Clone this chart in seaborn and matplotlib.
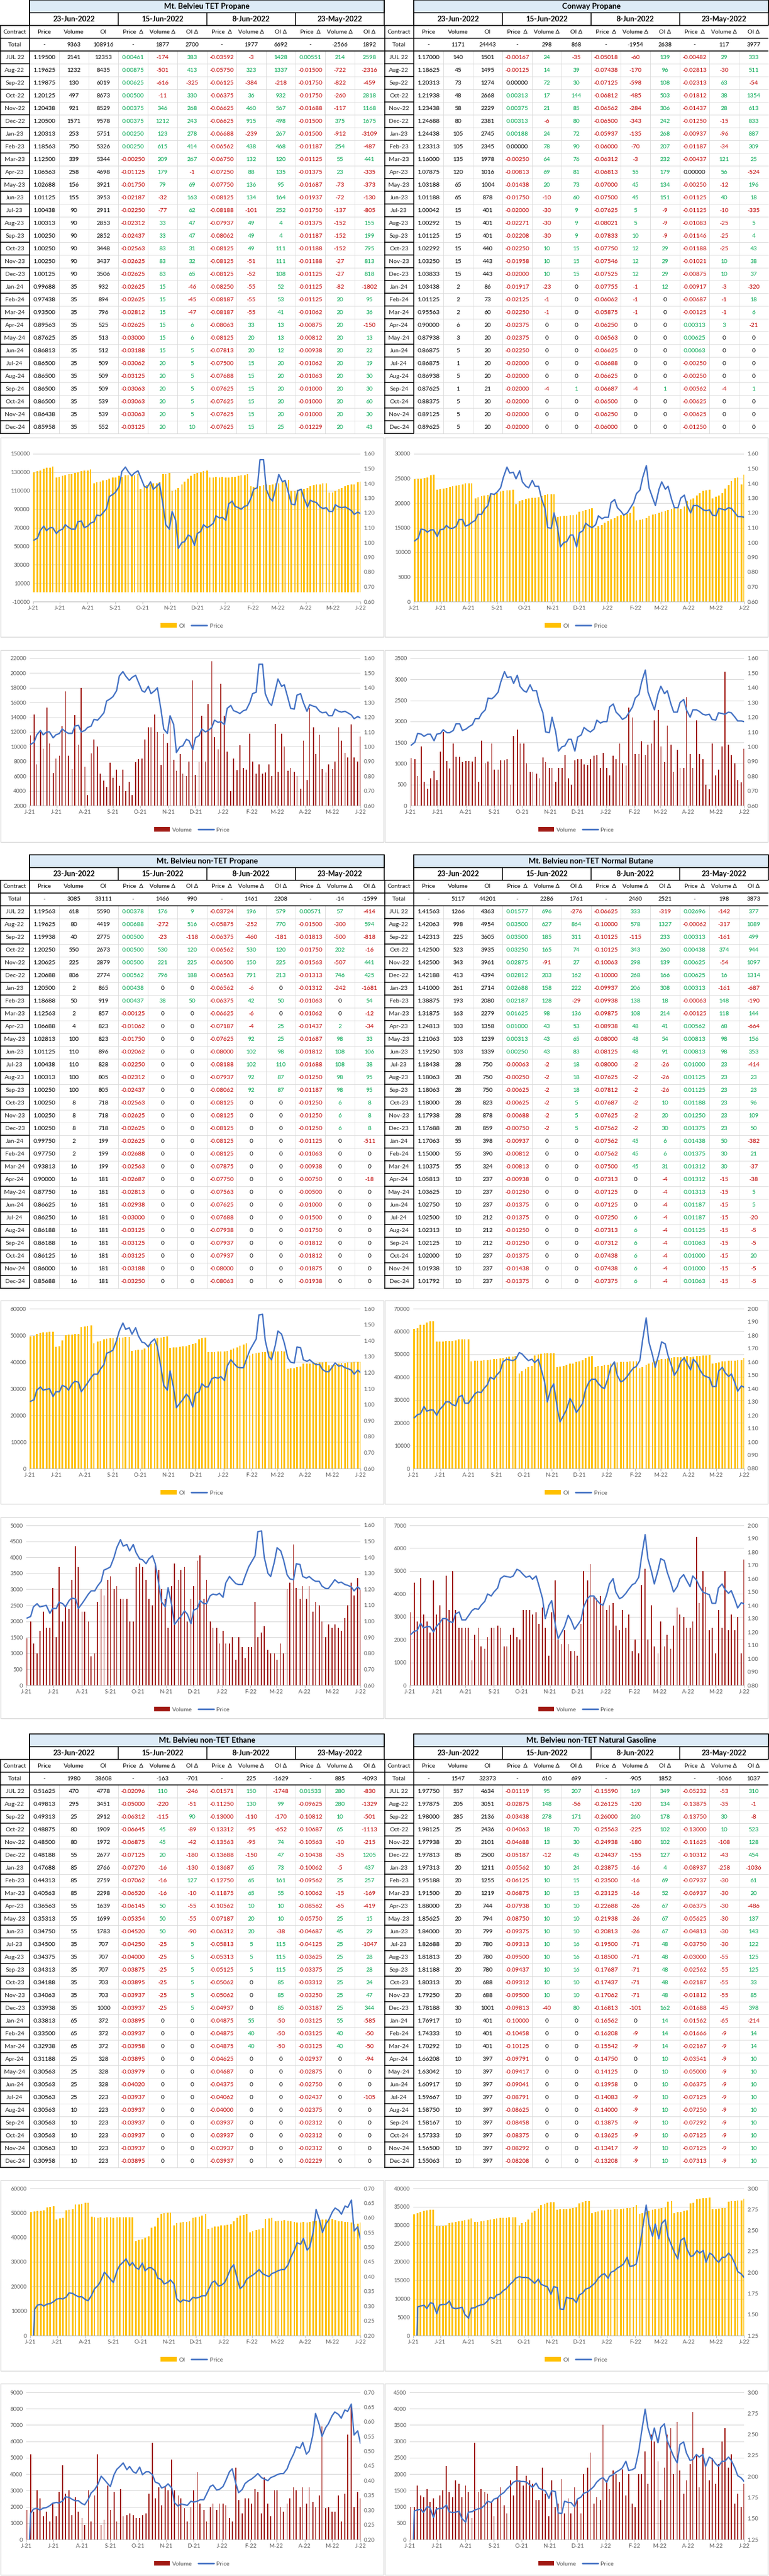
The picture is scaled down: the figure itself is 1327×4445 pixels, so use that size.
import numpy as np
import pandas as pd
import matplotlib
matplotlib.use('Agg')
import matplotlib.pyplot as plt
from matplotlib.patches import Rectangle, Patch
from matplotlib.lines import Line2D
from matplotlib.ticker import FuncFormatter
import seaborn as sns

W, H = 1327, 4445
CW, RH = 51, 22

sns.set_theme(style='white')
plt.rcParams['font.family'] = ['Lato', 'DejaVu Sans']

GOLD = '#FFC000'
MAROON = '#A11A14'
BLUE = '#4472C4'
GRID = '#D9D9D9'
TICK = '#595959'
RED = '#C00000'
GREEN = '#00A650'

contracts = ['JUL 22', 'Aug-22', 'Sep-22', 'Oct-22', 'Nov-22', 'Dec-22',
             'Jan-23', 'Feb-23', 'Mar-23', 'Apr-23', 'May-23', 'Jun-23',
             'Jul-23', 'Aug-23', 'Sep-23', 'Oct-23', 'Nov-23', 'Dec-23',
             'Jan-24', 'Feb-24', 'Mar-24', 'Apr-24', 'May-24', 'Jun-24',
             'Jul-24', 'Aug-24', 'Sep-24', 'Oct-24', 'Nov-24', 'Dec-24']
report_dates = ['23-Jun-2022', '15-Jun-2022', '8-Jun-2022', '23-May-2022']
col_heads = ['Contract', 'Price', 'Volume', 'OI'] + ['Price  Δ', 'Volume Δ', 'OI Δ'] * 3

# ---------------- table values ----------------
# totals: volume, OI, then (volume delta, OI delta) for each comparison date
tet_totals = [9363, 108916, 1877, 2700, 1977, 6692, -2566, 1892]
tet_rows = [
    [1.19500, 2141, 12353, 0.00461, -174, 383, -0.03592, -3, 1428, 0.00551, 214, 2598],
    [1.19625, 1232, 8435, 0.00875, -501, 413, -0.05750, 323, 1337, -0.01500, -722, -2316],
    [1.19875, 130, 6019, 0.00625, -616, -325, -0.06125, -384, -218, -0.01750, -822, -459],
    [1.20125, 497, 8673, 0.00500, -11, 330, -0.06375, 36, 932, -0.01750, -260, 2818],
    [1.20438, 921, 8529, 0.00375, 346, 268, -0.06625, 460, 567, -0.01688, -117, 1168],
    [1.20500, 1571, 9578, 0.00375, 1212, 243, -0.06625, 915, 498, -0.01500, 375, 1675],
    [1.20313, 253, 5751, 0.00250, 123, 278, -0.06688, -239, 267, -0.01500, -912, -3109],
    [1.18563, 750, 5326, 0.00250, 615, 414, -0.06562, 438, 468, -0.01187, 254, -487],
    [1.12500, 339, 5344, -0.00250, 209, 267, -0.06750, 132, 120, -0.01125, 55, 441],
    [1.06563, 258, 4698, -0.01125, 179, -1, -0.07250, 88, 135, -0.01375, 23, -335],
    [1.02688, 156, 3921, -0.01750, 79, 69, -0.07750, 136, 95, -0.01687, -73, -373],
    [1.01125, 155, 3953, -0.02187, -32, 163, -0.08125, 134, 164, -0.01937, -72, -130],
    [1.00438, 90, 2911, -0.02250, -77, 62, -0.08188, -101, 252, -0.01750, -137, -805],
    [1.00313, 90, 2853, -0.02312, 33, 47, -0.07937, 49, 4, -0.01375, -152, 155],
    [1.00250, 90, 2852, -0.02437, 33, 47, -0.08062, 49, 4, -0.01187, -152, 199],
    [1.00250, 90, 3448, -0.02563, 83, 31, -0.08125, 49, 111, -0.01188, -152, 795],
    [1.00250, 90, 3437, -0.02625, 83, 32, -0.08125, -51, 111, -0.01188, -27, 813],
    [1.00125, 90, 3506, -0.02625, 83, 65, -0.08125, -52, 108, -0.01125, -27, 818],
    [0.99688, 35, 932, -0.02625, 15, -46, -0.08250, -55, 52, -0.01125, -82, -1802],
    [0.97438, 35, 894, -0.02625, 15, -45, -0.08187, -55, 53, -0.01125, 20, 95],
    [0.93500, 35, 796, -0.02812, 15, -47, -0.08187, -55, 41, -0.01062, 20, 36],
    [0.89563, 35, 525, -0.02625, 15, 6, -0.08063, 33, 13, -0.00875, 20, -150],
    [0.87625, 35, 513, -0.03000, 15, 6, -0.08125, 20, 13, -0.00812, 20, 13],
    [0.86813, 35, 512, -0.03188, 15, 5, -0.07813, 20, 12, -0.00938, 20, 22],
    [0.86500, 35, 509, -0.03062, 20, 5, -0.07500, 15, 20, -0.01062, 20, 19],
    [0.86500, 35, 509, -0.03125, 20, 5, -0.07688, 15, 20, -0.01063, 20, 30],
    [0.86500, 35, 509, -0.03063, 20, 5, -0.07625, 15, 20, -0.01000, 20, 30],
    [0.86500, 35, 539, -0.03063, 20, 5, -0.07625, 15, 20, -0.01000, 20, 60],
    [0.86438, 35, 539, -0.03063, 20, 5, -0.07625, 15, 20, -0.01000, 20, 30],
    [0.85958, 35, 552, -0.03125, 20, 10, -0.07625, 15, 25, -0.01229, 20, 43],
]

conway_totals = [1171, 24443, 298, 868, -1954, 2638, 117, 3977]
conway_rows = [
    [1.17000, 140, 1501, -0.00167, 24, -35, -0.05018, -60, 139, -0.00482, 29, 333],
    [1.18625, 45, 1495, -0.00125, 14, 39, -0.07438, -170, 96, -0.02813, -30, 511],
    [1.20313, 73, 1274, 0.00000, 72, 30, -0.07125, -598, 108, -0.02313, 63, -54],
    [1.21938, 48, 2668, 0.00313, 17, 144, -0.06812, -485, 503, -0.01812, 38, 1354],
    [1.23438, 58, 2229, 0.00375, 21, 85, -0.06562, -284, 306, -0.01437, 28, 613],
    [1.24688, 80, 2381, 0.00313, -6, 80, -0.06500, -343, 242, -0.01250, -15, 833],
    [1.24438, 105, 2745, 0.00188, 24, 72, -0.05937, -135, 268, -0.00937, -96, 887],
    [1.23313, 105, 2345, 0.00000, 78, 90, -0.06000, -70, 207, -0.01187, -34, 309],
    [1.16000, 135, 1978, -0.00250, 64, 76, -0.06312, -3, 232, -0.00437, 121, 25],
    [1.07875, 120, 1016, -0.00813, 69, 81, -0.06813, 55, 179, 0.00000, 56, -524],
    [1.03188, 65, 1004, -0.01438, 20, 73, -0.07000, 45, 134, -0.00250, -12, 196],
    [1.01188, 65, 878, -0.01750, -10, 60, -0.07500, 45, 151, -0.01125, 40, 18],
    [1.00042, 15, 401, -0.02000, -30, 9, -0.07625, 5, -9, -0.01125, -10, -335],
    [1.00292, 15, 401, -0.02271, -30, 9, -0.08021, 5, -9, -0.01083, -25, 5],
    [1.01125, 15, 401, -0.02208, -30, 9, -0.07833, 10, -9, -0.01146, -25, 4],
    [1.02292, 15, 440, -0.02250, 10, 15, -0.07750, 12, 29, -0.01188, -25, 43],
    [1.03250, 15, 443, -0.01958, 10, 15, -0.07546, 12, 29, -0.01021, 10, 38],
    [1.03833, 15, 443, -0.02000, 10, 15, -0.07525, 12, 29, -0.00875, 10, 37],
    [1.03438, 2, 86, -0.01917, -23, 0, -0.07755, -1, 12, -0.00917, -3, -320],
    [1.01125, 2, 73, -0.02125, -1, 0, -0.06062, -1, 0, -0.00687, -1, 18],
    [0.95563, 2, 60, -0.02250, -1, 0, -0.05875, -1, 0, -0.00125, -1, 6],
    [0.90000, 6, 20, -0.02375, 0, 0, -0.06250, 0, 0, 0.00313, 3, -21],
    [0.87938, 3, 20, -0.02375, 0, 0, -0.06563, 0, 0, 0.00625, 0, 0],
    [0.86875, 5, 20, -0.02250, 0, 0, -0.06625, 0, 0, 0.00063, 0, 0],
    [0.86875, 1, 20, -0.02000, 0, 0, -0.06688, 0, 0, -0.00250, 0, 0],
    [0.86938, 5, 20, -0.02000, 0, 0, -0.06625, 0, 0, -0.00250, 0, 0],
    [0.87625, 1, 21, -0.02000, -4, 1, -0.06687, -4, 1, -0.00562, -4, 1],
    [0.88375, 5, 20, -0.02000, 0, 0, -0.06500, 0, 0, -0.00625, 0, 0],
    [0.89125, 5, 20, -0.02000, 0, 0, -0.06250, 0, 0, -0.00625, 0, 0],
    [0.89625, 5, 20, -0.02000, 0, 0, -0.06000, 0, 0, -0.01250, 0, 0],
]

ntp_totals = [3085, 33111, 1466, 990, 1461, 2208, -14, -1599]
ntp_rows = [
    [1.19563, 618, 5590, 0.00378, 176, 9, -0.03724, 196, 579, 0.00571, 57, -414],
    [1.19625, 80, 4419, 0.00688, -272, 516, -0.05875, -252, 770, -0.01500, -300, 594],
    [1.19938, 40, 2775, 0.00500, -23, -118, -0.06375, -460, -181, -0.01813, -500, -818],
    [1.20250, 550, 2673, 0.00500, 530, 120, -0.06562, 530, 120, -0.01750, 202, -16],
    [1.20625, 225, 2879, 0.00500, 221, 225, -0.06500, 150, 225, -0.01563, -507, 441],
    [1.20688, 806, 2774, 0.00562, 796, 188, -0.06563, 791, 213, -0.01313, 746, 425],
    [1.20500, 2, 865, 0.00438, 0, 0, -0.06562, -6, 0, -0.01312, -242, -1681],
    [1.18688, 50, 919, 0.00437, 38, 50, -0.06375, 42, 50, -0.01063, 0, 54],
    [1.12563, 2, 857, -0.00125, 0, 0, -0.06625, -6, 0, -0.01062, 0, -12],
    [1.06688, 4, 823, -0.01062, 0, 0, -0.07187, -4, 25, -0.01437, 2, -34],
    [1.02813, 100, 823, -0.01750, 0, 0, -0.07625, 92, 25, -0.01687, 98, 33],
    [1.01125, 110, 896, -0.02062, 0, 0, -0.08000, 102, 98, -0.01812, 108, 106],
    [1.00438, 110, 828, -0.02250, 0, 0, -0.08188, 102, 110, -0.01688, 108, 38],
    [1.00313, 100, 805, -0.02312, 0, 0, -0.07937, 92, 87, -0.01250, 98, 95],
    [1.00250, 100, 805, -0.02437, 0, 0, -0.08062, 92, 87, -0.01187, 98, 95],
    [1.00250, 8, 718, -0.02563, 0, 0, -0.08125, 0, 0, -0.01250, 6, 8],
    [1.00250, 8, 718, -0.02625, 0, 0, -0.08125, 0, 0, -0.01250, 6, 8],
    [1.00250, 8, 718, -0.02625, 0, 0, -0.08125, 0, 0, -0.01250, 6, 8],
    [0.99750, 2, 199, -0.02625, 0, 0, -0.08125, 0, 0, -0.01125, 0, -511],
    [0.97750, 2, 199, -0.02688, 0, 0, -0.08125, 0, 0, -0.01063, 0, 0],
    [0.93813, 16, 199, -0.02563, 0, 0, -0.07875, 0, 0, -0.00938, 0, 0],
    [0.90000, 16, 181, -0.02687, 0, 0, -0.07750, 0, 0, -0.00750, 0, -18],
    [0.87750, 16, 181, -0.02813, 0, 0, -0.07563, 0, 0, -0.00500, 0, 0],
    [0.86625, 16, 181, -0.02938, 0, 0, -0.07625, 0, 0, -0.01000, 0, 0],
    [0.86250, 16, 181, -0.03000, 0, 0, -0.07688, 0, 0, -0.01500, 0, 0],
    [0.86188, 16, 181, -0.03125, 0, 0, -0.07938, 0, 0, -0.01750, 0, 0],
    [0.86188, 16, 181, -0.03125, 0, 0, -0.07937, 0, 0, -0.01812, 0, 0],
    [0.86125, 16, 181, -0.03125, 0, 0, -0.07937, 0, 0, -0.01812, 0, 0],
    [0.86000, 16, 181, -0.03188, 0, 0, -0.08000, 0, 0, -0.01875, 0, 0],
    [0.85688, 16, 181, -0.03250, 0, 0, -0.08063, 0, 0, -0.01938, 0, 0],
]

nbu_totals = [5117, 44201, 2286, 1761, 2460, 2521, 198, 3873]
nbu_rows = [
    [1.41563, 1266, 4363, 0.01577, 696, -276, -0.06625, 333, -319, 0.02696, -142, 377],
    [1.42063, 998, 4954, 0.03500, 627, 864, -0.10000, 578, 1327, -0.00062, -317, 1089],
    [1.42313, 225, 3605, 0.03500, 185, 311, -0.10125, -115, 233, 0.00313, -161, 499],
    [1.42500, 523, 3935, 0.03250, 165, 74, -0.10125, 343, 260, 0.00438, 374, 944],
    [1.42500, 343, 3961, 0.02875, -91, 27, -0.10063, 298, 139, 0.00625, -54, 1097],
    [1.42188, 413, 4394, 0.02812, 203, 162, -0.10000, 268, 166, 0.00625, 16, 1314],
    [1.41000, 261, 2714, 0.02688, 158, 222, -0.09937, 206, 308, 0.00313, -161, -687],
    [1.38875, 193, 2080, 0.02187, 128, -29, -0.09938, 138, 18, -0.00063, 148, -190],
    [1.31875, 163, 2279, 0.01625, 98, 136, -0.09875, 108, 214, -0.00125, 118, 144],
    [1.24813, 103, 1358, 0.01000, 43, 53, -0.08938, 48, 41, 0.00562, 68, -664],
    [1.21063, 103, 1239, 0.00313, 43, 65, -0.08000, 48, 54, 0.00813, 98, 156],
    [1.19250, 103, 1339, 0.00250, 43, 83, -0.08125, 48, 91, 0.00813, 98, 353],
    [1.18438, 28, 750, -0.00063, -2, 18, -0.08000, -2, -26, 0.01000, 23, -414],
    [1.18063, 28, 750, -0.00250, -2, 18, -0.07625, -2, -26, 0.01125, 23, 23],
    [1.18063, 28, 750, -0.00625, -2, 18, -0.07812, -2, -26, 0.01125, 23, 23],
    [1.18000, 28, 823, -0.00625, -2, 5, -0.07687, -2, 10, 0.01188, 23, 96],
    [1.17938, 28, 878, -0.00688, -2, 5, -0.07625, -2, 20, 0.01250, 23, 109],
    [1.17688, 28, 859, -0.00750, -2, 5, -0.07562, -2, 30, 0.01375, 23, 50],
    [1.17063, 55, 398, -0.00937, 0, 0, -0.07562, 45, 6, 0.01438, 50, -382],
    [1.15000, 55, 390, -0.00812, 0, 0, -0.07562, 45, 6, 0.01375, 30, 21],
    [1.10375, 55, 324, -0.00813, 0, 0, -0.07500, 45, 31, 0.01312, 30, -37],
    [1.05813, 10, 237, -0.00938, 0, 0, -0.07313, 0, -4, 0.01312, -15, -38],
    [1.03625, 10, 237, -0.01250, 0, 0, -0.07125, 0, -4, 0.01313, -15, 5],
    [1.02750, 10, 237, -0.01375, 0, 0, -0.07125, 0, -4, 0.01187, -15, 5],
    [1.02500, 10, 212, -0.01375, 0, 0, -0.07250, 6, -4, 0.01187, -15, -20],
    [1.02313, 10, 212, -0.01250, 0, 0, -0.07313, 6, -4, 0.01125, -15, -5],
    [1.02125, 10, 212, -0.01250, 0, 0, -0.07312, 6, -4, 0.01063, -15, -5],
    [1.02000, 10, 237, -0.01375, 0, 0, -0.07438, 6, -4, 0.01000, -15, 20],
    [1.01938, 10, 237, -0.01438, 0, 0, -0.07438, 6, -4, 0.01000, -15, -5],
    [1.01792, 10, 237, -0.01375, 0, 0, -0.07375, 6, -4, 0.01063, -15, -5],
]

eth_totals = [1980, 38608, -163, -701, 225, -1629, 885, -4093]
eth_rows = [
    [0.51625, 470, 4778, -0.02096, 110, -246, -0.01571, 150, -1748, 0.01533, 280, -830],
    [0.49813, 295, 3451, -0.05000, -220, -51, -0.11250, 130, 99, -0.09625, 280, -1329],
    [0.49313, 25, 2912, -0.06312, -115, 90, -0.13000, -110, -170, -0.10812, 10, -501],
    [0.48875, 80, 1909, -0.06645, 45, -89, -0.13312, -95, -652, -0.10687, 65, -1113],
    [0.48500, 80, 1972, -0.06875, 45, -42, -0.13563, -95, 74, -0.10563, -10, -215],
    [0.48188, 55, 2677, -0.07125, 20, -180, -0.13688, -150, 47, -0.10438, -35, 1205],
    [0.47688, 85, 2766, -0.07270, -16, -130, -0.13687, 65, 73, -0.10062, -5, 437],
    [0.44313, 85, 2759, -0.07062, -16, 127, -0.12750, 65, 161, -0.09562, 25, 257],
    [0.40563, 85, 2298, -0.06520, -16, -10, -0.11875, 65, 55, -0.10062, -15, -169],
    [0.36563, 55, 1639, -0.06145, 50, -55, -0.10562, 10, 10, -0.08562, -65, -419],
    [0.35313, 55, 1699, -0.05354, 50, -55, -0.07187, 20, 10, -0.05750, 25, 15],
    [0.34750, 55, 1783, -0.04520, 50, -90, -0.06312, 20, -38, -0.04687, 45, 29],
    [0.34500, 35, 707, -0.04250, -25, 5, -0.05813, 5, 115, -0.04125, 25, -1047],
    [0.34375, 35, 707, -0.04000, -25, 5, -0.05313, 5, 115, -0.03625, 25, 28],
    [0.34313, 35, 707, -0.03875, -25, 5, -0.05125, 5, 115, -0.03375, 25, 28],
    [0.34188, 35, 703, -0.03895, -25, 5, -0.05062, 0, 85, -0.03312, 25, 24],
    [0.34063, 35, 703, -0.03937, -25, 5, -0.05062, 0, 85, -0.03250, 25, 47],
    [0.33938, 35, 1000, -0.03937, -25, 5, -0.04937, 0, 85, -0.03187, 25, 344],
    [0.33813, 65, 372, -0.03895, 0, 0, -0.04875, 55, -50, -0.03125, 55, -585],
    [0.33500, 65, 372, -0.03937, 0, 0, -0.04875, 40, -50, -0.03125, 40, -50],
    [0.32938, 65, 372, -0.03958, 0, 0, -0.04875, 40, -50, -0.03125, 40, -50],
    [0.31188, 25, 328, -0.03895, 0, 0, -0.04625, 0, 0, -0.02937, 0, -94],
    [0.30563, 25, 328, -0.03979, 0, 0, -0.04687, 0, 0, -0.02875, 0, 0],
    [0.30563, 25, 328, -0.04020, 0, 0, -0.04375, 0, 0, -0.02750, 0, 0],
    [0.30563, 25, 223, -0.03937, 0, 0, -0.04062, 0, 0, -0.02437, 0, -105],
    [0.30563, 10, 223, -0.03937, 0, 0, -0.04000, 0, 0, -0.02375, 0, 0],
    [0.30563, 10, 223, -0.03937, 0, 0, -0.03937, 0, 0, -0.02312, 0, 0],
    [0.30563, 10, 223, -0.03937, 0, 0, -0.03937, 0, 0, -0.02312, 0, 0],
    [0.30563, 10, 223, -0.03937, 0, 0, -0.03937, 0, 0, -0.02312, 0, 0],
    [0.30958, 10, 223, -0.03895, 0, 0, -0.03937, 0, 0, -0.02229, 0, 0],
]

ngl_totals = [1547, 32373, 610, 699, -905, 1852, -1066, 1037]
ngl_rows = [
    [1.97750, 557, 4634, -0.01119, 95, 207, -0.15590, 169, 349, -0.05232, -53, 310],
    [1.97875, 205, 3051, -0.02875, 148, -56, -0.26125, -120, 134, -0.13875, -35, -1],
    [1.98000, 285, 2136, -0.03438, 278, 171, -0.26000, 260, 178, -0.13750, 30, -8],
    [1.98125, 25, 2436, -0.04063, 18, 70, -0.25563, -225, 102, -0.13000, 10, 523],
    [1.97938, 20, 2101, -0.04688, 13, 30, -0.24938, -180, 102, -0.11625, -108, 128],
    [1.97813, 85, 2500, -0.05187, -12, 45, -0.24437, -155, 127, -0.10312, -43, 454],
    [1.97313, 20, 1211, -0.05562, 10, 24, -0.23875, -16, 4, -0.08937, -258, -1036],
    [1.95188, 20, 1255, -0.06125, 10, 15, -0.23500, -16, 69, -0.07937, -30, 61],
    [1.91500, 20, 1219, -0.06875, 10, 15, -0.23125, -16, 52, -0.06937, -30, 20],
    [1.88000, 20, 744, -0.07938, 10, 10, -0.22688, -26, 67, -0.06375, -30, -486],
    [1.85625, 20, 794, -0.08750, 10, 10, -0.21938, -26, 67, -0.05625, -30, 137],
    [1.84000, 20, 799, -0.09375, 10, 10, -0.20813, -26, 67, -0.04813, -30, 143],
    [1.82688, 20, 780, -0.09313, 10, 16, -0.19500, -71, 48, -0.03750, -30, 122],
    [1.81813, 20, 780, -0.09500, 10, 16, -0.18500, -71, 48, -0.03000, -55, 125],
    [1.81188, 20, 780, -0.09437, 10, 16, -0.17687, -71, 48, -0.02562, -55, 125],
    [1.80313, 20, 688, -0.09312, 10, 10, -0.17437, -71, 48, -0.02187, -55, 33],
    [1.79250, 20, 688, -0.09500, 10, 10, -0.17062, -71, 48, -0.01812, -55, 85],
    [1.78188, 30, 1001, -0.09813, -40, 80, -0.16813, -101, 162, -0.01688, -45, 398],
    [1.76917, 10, 401, -0.10000, 0, 0, -0.16562, 0, 14, -0.01562, -65, -214],
    [1.74333, 10, 401, -0.10458, 0, 0, -0.16208, -9, 14, -0.01666, -9, 14],
    [1.70292, 10, 401, -0.10125, 0, 0, -0.15542, -9, 14, -0.02167, -9, 14],
    [1.66208, 10, 397, -0.09791, 0, 0, -0.14750, 0, 10, -0.03541, -9, 10],
    [1.63042, 10, 397, -0.09417, 0, 0, -0.14125, 0, 10, -0.05000, -9, 10],
    [1.60917, 10, 397, -0.09041, 0, 0, -0.13958, 0, 10, -0.06375, -9, 10],
    [1.59667, 10, 397, -0.08791, 0, 0, -0.14083, -9, 10, -0.07125, -9, 10],
    [1.58750, 10, 397, -0.08625, 0, 0, -0.14000, -9, 10, -0.07250, -9, 10],
    [1.58167, 10, 397, -0.08458, 0, 0, -0.13875, -9, 10, -0.07292, -9, 10],
    [1.57333, 10, 397, -0.08375, 0, 0, -0.13625, -9, 10, -0.07125, -9, 10],
    [1.56500, 10, 397, -0.08292, 0, 0, -0.13417, -9, 10, -0.07125, -9, 10],
    [1.55063, 10, 397, -0.08208, 0, 0, -0.13208, -9, 10, -0.07313, -9, 10],
]

# ---------------- chart values (Mon / Thu observations, Jun-21 .. Jun-22) ----------------
tet_price = [1.015, 1.03, 1.08, 1.11, 1.08, 1.10, 1.10, 1.06, 1.08,
             1.09, 1.12, 1.10, 1.09, 1.09, 1.14, 1.145, 1.10,
             1.11, 1.13, 1.14, 1.185, 1.18, 1.20, 1.23, 1.31, 1.325,
             1.34, 1.38, 1.48, 1.51, 1.48, 1.45, 1.47, 1.485, 1.44,
             1.38, 1.37, 1.41, 1.36, 1.38, 1.40, 1.25, 1.12, 1.09,
             1.21, 1.15, 0.96, 1.00, 1.005, 1.05, 1.04, 0.98,
             1.06, 1.075, 1.12, 1.10, 1.11, 1.13, 1.18, 1.165, 1.17,
             1.15, 1.26, 1.28, 1.245, 1.235, 1.225, 1.245, 1.25, 1.30,
             1.36, 1.37, 1.56, 1.56, 1.36, 1.30, 1.28, 1.38,
             1.46, 1.41, 1.42, 1.33, 1.26, 1.255, 1.35, 1.36, 1.30,
             1.24, 1.285, 1.275, 1.27, 1.24, 1.23, 1.235, 1.21,
             1.21, 1.255, 1.24, 1.235, 1.24, 1.23, 1.215, 1.19, 1.205, 1.195]
tet_oi_k = [130, 131, 132, 134, 135, 135, 136, 124, 125,
            126, 127, 128, 128, 129, 130, 131, 132,
            132, 133, 118, 119, 120, 121, 122, 123, 124,
            124, 126, 125, 127, 127, 126, 127, 128, 112,
            115, 116, 117, 118, 118, 119, 128, 128, 129,
            110, 111, 113, 117, 120, 123, 126, 128,
            129, 130, 131, 132, 124, 124, 125, 124, 125,
            124, 124, 125, 125, 126, 127, 127, 128, 115,
            114, 115, 115, 116, 117, 116, 117, 118,
            118, 119, 122, 122, 110, 110, 111, 111, 112,
            113, 115, 116, 117, 117, 118, 118, 108,
            108, 110, 112, 113, 115, 116, 117, 117, 119, 120]
tet_vol = [11500, 14400, 7600, 12000, 9700, 15300, 10400, 6400, 8400,
           8800, 12800, 17500, 8800, 7000, 14300, 10300, 18000,
           7300, 3400, 9100, 11000, 10000, 6300, 5400, 4500, 7800,
           5800, 6900, 4700, 6900, 4000, 5200, 3400, 7900, 8300,
           8400, 11000, 12600, 12600, 14400, 12000, 7500, 11800, 10500,
           14200, 8200, 6700, 9000, 6300, 6000, 8000, 19000,
           6200, 7900, 14200, 8000, 15800, 21600, 11300, 9600, 18500,
           14200, 9300, 4000, 8400, 6800, 10200, 7100, 6900, 11800,
           8000, 6300, 7600, 6300, 6500, 7600, 6000, 13100,
           6600, 11800, 10000, 6700, 7100, 6600, 6000, 4300, 10800,
           5500, 15200, 12600, 9000, 11600, 7000, 6500, 7600,
           7000, 8000, 12600, 10800, 9200, 8500, 13000, 8500, 8000, 11400]

conway_price = [1.01, 1.03, 1.09, 1.085, 1.07, 1.085, 1.085, 1.04, 1.085,
                1.09, 1.115, 1.095, 1.095, 1.11, 1.155, 1.155, 1.11,
                1.12, 1.135, 1.15, 1.19, 1.19, 1.225, 1.25, 1.33, 1.325,
                1.34, 1.37, 1.44, 1.51, 1.47, 1.475, 1.43, 1.485, 1.41,
                1.38, 1.37, 1.42, 1.38, 1.38, 1.30, 1.23, 1.10, 1.095,
                1.20, 1.10, 0.97, 1.00, 1.005, 1.05, 1.05, 0.97,
                1.065, 1.08, 1.13, 1.11, 1.10, 1.12, 1.18, 1.16, 1.17,
                1.17, 1.27, 1.29, 1.235, 1.21, 1.185, 1.20, 1.23, 1.27,
                1.33, 1.355, 1.44, 1.52, 1.37, 1.30, 1.25, 1.36,
                1.41, 1.36, 1.38, 1.29, 1.235, 1.235, 1.30, 1.32, 1.25,
                1.20, 1.25, 1.25, 1.24, 1.22, 1.215, 1.22, 1.185,
                1.18, 1.23, 1.225, 1.22, 1.235, 1.23, 1.20, 1.175, 1.175, 1.17]
conway_oi_k = [24.8, 24.9, 25.0, 25.1, 25.2, 25.6, 25.8, 22.7, 22.8,
               22.9, 23.1, 23.3, 23.4, 23.5, 23.6, 23.8, 24.0,
               24.0, 24.0, 21.0, 21.2, 21.4, 21.5, 21.6, 21.8, 21.9,
               22.0, 22.3, 22.5, 22.6, 22.6, 22.7, 19.8, 20.3, 20.6,
               20.8, 21.0, 21.1, 21.1, 21.2, 21.4, 21.6, 21.8, 21.8,
               21.8, 17.2, 17.3, 17.4, 17.4, 17.5, 17.5, 17.6,
               18.2, 18.3, 18.6, 18.8, 19.0, 15.0, 15.3, 15.5, 16.0,
               16.4, 16.7, 17.0, 17.3, 17.5, 17.7, 17.8, 18.0, 19.3,
               16.5, 16.6, 16.7, 17.0, 17.4, 17.6, 17.8, 18.0,
               18.2, 18.4, 18.6, 18.8, 18.9, 18.9, 18.8, 19.3, 20.3,
               20.7, 20.9, 21.5, 22.0, 22.5, 22.6, 22.7, 21.0,
               21.3, 21.5, 22.0, 23.0, 23.7, 24.5, 25.1, 25.2, 23.8, 25.8]
conway_vol = [1130, 1100, 700, 1400, 570, 400, 650, 820, 600,
              1280, 1750, 1060, 880, 1480, 1160, 1160, 1030,
              1060, 1060, 1050, 1160, 570, 1550, 1000, 1050, 1480,
              860, 860, 1080, 1080, 1100, 500, 1650, 1800, 1480,
              1480, 1000, 800, 800, 760, 650, 1150, 1040, 900,
              900, 560, 900, 900, 1200, 650, 500, 1070,
              1100, 1100, 980, 960, 1100, 1180, 1200, 900, 1250,
              900, 720, 1180, 1100, 1470, 1000, 950, 2330, 2100,
              1230, 1230, 1530, 1200, 1450, 1470, 2020, 2280,
              1400, 1030, 1900, 1450, 800, 1320, 900, 900, 2580,
              1230, 900, 2020, 1230, 1100, 500, 380, 1480,
              720, 850, 1400, 3180, 1450, 1200, 1000, 600, 550, 1350]

ntp_price = [1.02, 1.03, 1.09, 1.11, 1.09, 1.095, 1.10, 1.05, 1.08,
             1.08, 1.12, 1.11, 1.09, 1.13, 1.145, 1.14, 1.08,
             1.11, 1.135, 1.17, 1.19, 1.19, 1.22, 1.25, 1.32, 1.33,
             1.34, 1.40, 1.46, 1.51, 1.47, 1.48, 1.44, 1.48, 1.43,
             1.39, 1.385, 1.36, 1.39, 1.41, 1.36, 1.23, 1.12, 1.09,
             1.21, 1.10, 0.98, 1.01, 1.03, 1.065, 1.045, 0.985,
             1.07, 1.08, 1.13, 1.11, 1.11, 1.16, 1.17, 1.165, 1.175,
             1.15, 1.24, 1.28, 1.26, 1.235, 1.23, 1.23, 1.28, 1.34,
             1.37, 1.41, 1.56, 1.565, 1.40, 1.30, 1.28, 1.37,
             1.46, 1.44, 1.385, 1.29, 1.265, 1.26, 1.36, 1.355, 1.28,
             1.27, 1.28, 1.26, 1.25, 1.25, 1.22, 1.205, 1.205,
             1.235, 1.26, 1.24, 1.245, 1.23, 1.225, 1.215, 1.19, 1.215, 1.20]
ntp_oi_k = [49.5, 49.8, 50.5, 50.8, 51.0, 51.0, 51.2, 51.3, 45.6,
            45.8, 48.0, 50.0, 50.2, 50.3, 50.5, 50.5, 53.0,
            53.2, 53.5, 53.6, 47.0, 47.7, 47.9, 48.5, 48.7, 48.9,
            49.0, 49.1, 49.2, 49.2, 49.3, 49.3, 44.2, 44.4, 44.5,
            44.6, 45.0, 46.6, 46.8, 47.0, 49.0, 49.2, 49.3, 49.5,
            45.3, 45.4, 45.5, 45.6, 45.8, 45.9, 46.2, 46.7,
            47.0, 48.5, 49.0, 49.2, 43.6, 43.7, 43.8, 43.9, 44.0,
            44.0, 44.2, 44.5, 45.0, 45.5, 46.0, 46.5, 47.0, 42.3,
            43.0, 43.3, 43.5, 43.7, 43.8, 43.9, 44.0, 44.0,
            44.0, 44.1, 43.9, 37.5, 37.6, 37.7, 38.0, 38.2, 39.3,
            39.3, 39.4, 39.5, 39.6, 39.7, 39.8, 39.9, 38.6,
            38.7, 39.0, 39.3, 39.5, 39.6, 39.7, 39.8, 39.9, 40.0, 40.1]
ntp_vol = [1470, 2000, 1300, 1000, 1700, 2300, 1800, 1800, 3050,
           1500, 3700, 2000, 2500, 2400, 3300, 4350, 3700,
           2300, 2300, 2000, 900, 1000, 2600, 3000, 2800, 3300,
           3400, 3000, 3100, 2700, 2700, 2700, 2000, 2000, 3700,
           3800, 3700, 3300, 2700, 2500, 3800, 3600, 3000, 2700,
           1800, 3100, 3800, 3300, 3600, 3700, 2000, 2700,
           3100, 3900, 4050, 2700, 3300, 2000, 1800, 1800, 1300,
           1700, 1300, 1300, 1500, 800, 1500, 1200, 860, 1200,
           1200, 2600, 1500, 1650, 1850, 1100, 1000, 1000,
           800, 1300, 1000, 3000, 3200, 4400, 3050, 2700, 3100,
           2700, 3100, 2300, 2600, 2500, 2000, 1500, 1900,
           1800, 1900, 1800, 1700, 2100, 2500, 3200, 2800, 3350, 3000]

nbu_price = [1.18, 1.205, 1.21, 1.265, 1.23, 1.24, 1.24, 1.20, 1.24,
             1.27, 1.30, 1.30, 1.28, 1.27, 1.335, 1.35, 1.29,
             1.29, 1.32, 1.36, 1.375, 1.37, 1.40, 1.43, 1.485, 1.47,
             1.50, 1.53, 1.60, 1.62, 1.615, 1.61, 1.62, 1.67, 1.66,
             1.63, 1.61, 1.62, 1.595, 1.62, 1.55, 1.45, 1.30, 1.40,
             1.435, 1.25, 1.15, 1.20, 1.24, 1.325, 1.29, 1.22,
             1.25, 1.29, 1.39, 1.45, 1.47, 1.47, 1.44, 1.41, 1.40,
             1.48, 1.56, 1.60, 1.50, 1.45, 1.46, 1.49, 1.52, 1.555,
             1.565, 1.61, 1.76, 1.93, 1.75, 1.65, 1.56, 1.66,
             1.75, 1.735, 1.65, 1.57, 1.50, 1.54, 1.60, 1.63, 1.59,
             1.54, 1.62, 1.59, 1.545, 1.50, 1.49, 1.48, 1.415,
             1.415, 1.53, 1.56, 1.52, 1.49, 1.51, 1.44, 1.38, 1.42, 1.41]
nbu_oi_k = [61.0, 61.5, 62.8, 63.0, 64.0, 64.3, 64.5, 55.5, 55.6,
            55.6, 55.7, 55.8, 55.8, 56.0, 56.5, 56.6, 56.6,
            56.5, 47.0, 47.2, 47.3, 47.3, 47.4, 47.5, 47.8, 47.9,
            48.0, 48.2, 48.5, 48.7, 48.9, 49.0, 49.2, 41.5, 42.5,
            43.5, 44.5, 45.0, 49.5, 50.0, 50.3, 50.4, 50.5, 50.5,
            50.5, 44.5, 44.7, 45.0, 45.5, 45.8, 46.0, 46.7,
            46.9, 47.5, 48.5, 49.0, 49.3, 44.5, 44.8, 45.0, 45.3,
            45.5, 45.8, 46.2, 46.5, 46.6, 46.7, 46.7, 46.8, 47.0,
            47.0, 44.0, 44.5, 45.5, 46.0, 46.5, 47.0, 47.5,
            47.9, 48.0, 48.2, 48.5, 48.6, 48.7, 48.8, 49.0, 49.2,
            48.8, 49.0, 49.2, 49.3, 49.4, 49.5, 49.6, 46.0,
            46.2, 46.5, 46.8, 47.0, 47.1, 47.2, 47.3, 47.4, 47.5, 48.5]
nbu_vol = [3200, 4500, 2800, 4700, 3100, 2800, 2300, 4600, 3100,
           3500, 2900, 4800, 3300, 5000, 3300, 2500, 2500,
           2500, 2500, 1100, 2200, 2500, 1700, 1600, 2100, 2500,
           2500, 2600, 2500, 1700, 1700, 2200, 2500, 2100, 2000,
           3300, 3300, 3300, 3100, 3200, 2700, 3400, 2500, 1300,
           3200, 4600, 2000, 1800, 2400, 1800, 1500, 1500,
           1300, 2700, 5000, 4600, 5300, 3900, 3800, 3900, 3600,
           3300, 3500, 3600, 2600, 2400, 3300, 2500, 3100, 1500,
           2000, 1400, 4400, 5100, 2000, 3500, 1700, 1400,
           2800, 1700, 2200, 1600, 2600, 3400, 3100, 3000, 2500,
           2500, 2800, 6500, 3600, 5000, 4300, 2400, 2500,
           1400, 3300, 2500, 5000, 2400, 3100, 2400, 3000, 1400, 5500]

eth_price = [0.0, 0.289, 0.303, 0.306, 0.300, 0.307, 0.308, 0.315, 0.323,
             0.326, 0.324, 0.331, 0.345, 0.343, 0.337, 0.331, 0.332,
             0.322, 0.318, 0.337, 0.358, 0.370, 0.385, 0.415, 0.405, 0.390,
             0.380, 0.420, 0.438, 0.450, 0.460, 0.437, 0.448, 0.430, 0.425,
             0.446, 0.420, 0.430, 0.430, 0.420, 0.395, 0.390, 0.375, 0.380,
             0.389, 0.375, 0.325, 0.313, 0.321, 0.318, 0.316, 0.330,
             0.327, 0.330, 0.335, 0.335, 0.354, 0.380, 0.385, 0.368, 0.370,
             0.380, 0.400, 0.430, 0.440, 0.390, 0.359, 0.370, 0.390, 0.400,
             0.405, 0.415, 0.424, 0.410, 0.405, 0.400, 0.410, 0.415,
             0.420, 0.424, 0.424, 0.440, 0.465, 0.490, 0.515, 0.510, 0.530,
             0.490, 0.500, 0.555, 0.628, 0.590, 0.550, 0.580, 0.593,
             0.620, 0.633, 0.625, 0.612, 0.640, 0.635, 0.660, 0.555, 0.569, 0.527]
eth_oi_k = [50.4, 50.6, 50.8, 50.9, 51.0, 52.2, 52.5, 52.7, 47.2,
            47.6, 48.0, 51.0, 51.3, 51.5, 53.3, 53.5, 53.7,
            54.0, 54.2, 48.4, 48.2, 48.0, 48.1, 48.0, 48.2, 48.2,
            48.0, 48.1, 48.2, 48.1, 48.2, 48.3, 48.2, 38.6, 39.0,
            39.2, 40.0, 40.5, 44.0, 44.5, 48.0, 49.5, 49.8, 50.0,
            50.0, 45.0, 45.8, 46.0, 46.2, 46.4, 46.6, 48.0,
            48.3, 48.5, 49.0, 49.5, 43.5, 44.0, 44.3, 44.5, 44.8,
            45.0, 45.2, 45.4, 46.5, 48.0, 49.0, 49.2, 49.5, 42.0,
            42.5, 43.0, 43.3, 43.6, 47.5, 47.8, 48.0, 46.5,
            46.7, 46.8, 46.9, 46.8, 46.6, 46.3, 46.0, 46.0, 46.2,
            46.1, 46.2, 46.5, 46.8, 47.0, 47.2, 47.3, 47.5,
            47.5, 47.0, 46.5, 46.6, 46.3, 46.2, 46.0, 45.4, 45.6, 46.0]
eth_vol = [1800, 5200, 1700, 3000, 2500, 1400, 1700, 1100, 2200,
           1400, 2900, 4550, 2800, 3000, 1500, 2600, 1700,
           1300, 900, 3000, 1100, 2700, 5200, 900, 1200, 3300,
           1800, 2900, 1100, 3100, 1400, 1500, 1600, 1500, 1300,
           1300, 1500, 1600, 2800, 5900, 2500, 3200, 2100, 3200,
           3000, 4900, 3000, 2700, 2500, 1900, 1100, 2000,
           3000, 4100, 2200, 1800, 1100, 2000, 2200, 1800, 2200,
           2200, 2100, 1300, 1100, 4400, 2400, 1600, 2500, 2500,
           2200, 3100, 2900, 1600, 3800, 2200, 1400, 3000,
           3000, 2000, 1700, 2200, 2500, 3200, 3000, 2000, 3200,
           2200, 3200, 2300, 2000, 2700, 6900, 1900, 2000,
           1700, 1700, 2700, 1100, 2800, 6400, 8200, 2000, 2900, 2500]

ngl_price = [0.0, 1.59, 1.60, 1.61, 1.57, 1.64, 1.63, 1.51, 1.61,
             1.62, 1.62, 1.66, 1.58, 1.57, 1.575, 1.585, 1.50,
             1.456, 1.575, 1.58, 1.60, 1.615, 1.62, 1.66, 1.705, 1.69,
             1.73, 1.745, 1.78, 1.81, 1.85, 1.89, 1.93, 1.95, 1.94,
             1.94, 1.935, 1.90, 1.87, 1.92, 1.86, 1.84, 1.83, 1.74,
             1.83, 1.82, 1.565, 1.56, 1.705, 1.69, 1.69, 1.64,
             1.73, 1.755, 1.80, 1.815, 1.84, 1.88, 1.93, 1.97, 1.985,
             1.93, 2.00, 2.02, 2.05, 2.075, 2.10, 2.18, 2.07, 2.08,
             2.10, 2.30, 2.52, 2.80, 2.58, 2.43, 2.575, 2.40,
             2.58, 2.625, 2.43, 2.32, 2.24, 2.16, 2.38, 2.41, 2.28,
             2.19, 2.20, 2.26, 2.23, 2.26, 2.12, 2.23, 2.21,
             2.15, 2.12, 2.18, 2.18, 2.23, 2.19, 2.10, 2.01, 1.98, 1.94]
ngl_oi_k = [32.9, 33.2, 33.6, 33.9, 34.0, 34.1, 34.1, 29.8, 29.8,
            29.8, 29.9, 30.5, 30.7, 30.9, 31.0, 31.2, 31.4,
            31.5, 31.8, 30.8, 30.9, 31.0, 31.2, 31.3, 31.5, 31.7,
            31.8, 31.9, 32.0, 32.0, 32.1, 32.2, 32.2, 30.0, 30.5,
            30.8, 31.5, 33.4, 33.8, 34.5, 35.5, 35.8, 36.0, 36.2,
            36.2, 34.2, 34.3, 34.4, 34.4, 34.5, 34.6, 34.8,
            35.9, 36.2, 36.5, 36.6, 33.3, 33.5, 33.7, 34.0, 34.0,
            34.1, 34.2, 34.3, 34.4, 34.4, 34.5, 34.6, 34.7, 35.0,
            35.5, 33.1, 33.2, 33.5, 33.9, 34.2, 34.3, 34.5,
            34.6, 34.8, 36.3, 36.5, 33.3, 33.5, 33.6, 33.8, 34.0,
            35.9, 36.0, 37.0, 37.2, 37.3, 37.4, 37.5, 34.4,
            34.4, 34.5, 34.6, 34.7, 36.3, 36.5, 36.6, 36.7, 36.7, 37.2]
ngl_vol = [1000, 1000, 1650, 1350, 1300, 1550, 1150, 1250, 1000,
           1350, 1500, 2250, 1450, 1300, 1800, 1700, 1300,
           1650, 1450, 650, 2950, 1450, 1550, 1450, 1400, 1150,
           700, 1300, 1600, 1050, 800, 1800, 1350, 2250, 1800,
           1650, 1950, 1800, 1700, 1200, 1200, 2200, 1400, 700,
           1800, 1000, 1100, 1850, 800, 1250, 800, 1600,
           1200, 800, 2000, 2200, 2650, 1100, 1300, 1200, 3500,
           1800, 1550, 2100, 2000, 1750, 2150, 1350, 2000, 1100,
           1000, 2000, 2000, 2700, 1700, 3200, 3000, 2400,
           1200, 2200, 3200, 3400, 2000, 3600, 2100, 1400, 1800,
           2300, 3900, 2600, 1600, 2800, 2300, 1800, 2500,
           1700, 2300, 3000, 3400, 2200, 2600, 1100, 1400, 1000, 1700]

all_days = pd.date_range('2021-06-24', '2022-06-23', freq='D')
obs_dates = all_days[all_days.dayofweek.isin([0, 3])]
month_ticks = pd.date_range('2021-06-23', '2022-06-23', freq=pd.DateOffset(months=1))
tick_labels = [d.strftime('%b')[0] + d.strftime('-%y') for d in month_ticks]

panels = [
    dict(x0=0, y0=0, row=0, side=0, title='Mt. Belvieu TET Propane',
         totals=tet_totals, rows=tet_rows, price=tet_price, oi=tet_oi_k, vol=tet_vol,
         oi_lim=(-10000, 150000, 20000), vol_lim=(2000, 22000, 2000), p_lim=(0.6, 1.6, 0.1)),
    dict(x0=663, y0=0, row=0, side=1, title='Conway Propane',
         totals=conway_totals, rows=conway_rows, price=conway_price, oi=conway_oi_k, vol=conway_vol,
         oi_lim=(0, 30000, 5000), vol_lim=(0, 3500, 500), p_lim=(0.6, 1.6, 0.1)),
    dict(x0=0, y0=1475, row=1, side=0, title='Mt. Belvieu non-TET Propane',
         totals=ntp_totals, rows=ntp_rows, price=ntp_price, oi=ntp_oi_k, vol=ntp_vol,
         oi_lim=(0, 60000, 10000), vol_lim=(0, 5000, 500), p_lim=(0.6, 1.6, 0.1)),
    dict(x0=663, y0=1475, row=1, side=1, title='Mt. Belvieu non-TET Normal Butane',
         totals=nbu_totals, rows=nbu_rows, price=nbu_price, oi=nbu_oi_k, vol=nbu_vol,
         oi_lim=(0, 70000, 10000), vol_lim=(0, 7000, 1000), p_lim=(0.8, 2.0, 0.1)),
    dict(x0=0, y0=2992, row=2, side=0, title='Mt. Belvieu non-TET Ethane',
         totals=eth_totals, rows=eth_rows, price=eth_price, oi=eth_oi_k, vol=eth_vol,
         oi_lim=(0, 60000, 10000), vol_lim=(0, 9000, 1000), p_lim=(0.2, 0.7, 0.05)),
    dict(x0=663, y0=2992, row=2, side=1, title='Mt. Belvieu non-TET Natural Gasoline',
         totals=ngl_totals, rows=ngl_rows, price=ngl_price, oi=ngl_oi_k, vol=ngl_vol,
         oi_lim=(0, 40000, 5000), vol_lim=(0, 4500, 500), p_lim=(1.25, 3.0, 0.25)),
]

# chart geometry per panel row: (box top, box bottom, plot top, plot bottom, legend y)
chart_rows = [
    [(755, 1099, 783, 1038, 1080), (1122, 1453, 1136, 1390, 1432)],
    [(2244, 2595, 2258, 2534, 2576), (2618, 2965, 2632, 2908, 2950)],
    [(3762, 4091, 3776, 4030, 4072), (4113, 4443, 4128, 4382, 4424)],
]
plot_left = [[(57, 51), (51, 45)], [(51, 45), (50, 44)], [(52, 45), (50, 44)]]

fig = plt.figure(figsize=(W / 100, H / 100), dpi=100)
fig.patch.set_facecolor('white')
frame = fig.add_axes([0, 0, 1, 1])
frame.set_xlim(0, W)
frame.set_ylim(H, 0)
frame.axis('off')


def hline(x_a, x_b, y, color, lw):
    frame.plot([x_a, x_b], [y, y], color=color, lw=lw, solid_capstyle='butt', zorder=3)


def vline(x, y_a, y_b, color, lw):
    frame.plot([x, x], [y_a, y_b], color=color, lw=lw, solid_capstyle='butt', zorder=3)


def cell_text(c, v):
    if c in (0, 3, 6, 9):
        s = f'{v:.5f}'
    else:
        s = f'{int(v)}'
    if c < 3 or v == 0:
        return s, 'black'
    return s, GREEN if v > 0 else RED


def draw_table(x0, y0, title, totals, rows):
    xr = x0 + 13 * CW
    frame.add_patch(Rectangle((x0 + CW, y0), 12 * CW, RH, fc='#DDEBF7', ec='black', lw=1.1, zorder=2))
    frame.text(x0 + 7 * CW, y0 + RH / 2, title, ha='center', va='center',
               fontsize=9.5, fontweight='bold', color='black')
    for g, d in enumerate(report_dates):
        gx = x0 + CW + 3 * CW * g
        frame.text(gx + 1.5 * CW, y0 + 1.5 * RH, d, ha='center', va='center',
                   fontsize=9, fontweight='bold', color='black')
        vline(gx, y0 + RH, y0 + 2 * RH, 'black', 1.1)
    vline(xr, y0, y0 + 2 * RH, 'black', 1.1)
    for c, h in enumerate(col_heads):
        frame.text(x0 + CW * c + CW / 2, y0 + 2.5 * RH, h, ha='center', va='center',
                   fontsize=7.5, color='black')
    tot_cells = ['-', totals[0], totals[1], '-', totals[2], totals[3],
                 '-', totals[4], totals[5], '-', totals[6], totals[7]]
    frame.text(x0 + CW / 2, y0 + 3.5 * RH, 'Total', ha='center', va='center', fontsize=7.5)
    for c, v in enumerate(tot_cells):
        frame.text(x0 + CW * (c + 1) + CW / 2, y0 + 3.5 * RH, str(v), ha='center',
                   va='center', fontsize=7.5, color='black')
    for r, row in enumerate(rows):
        yc = y0 + (4.5 + r) * RH
        frame.text(x0 + CW / 2, yc, contracts[r], ha='center', va='center', fontsize=7.5)
        for c, v in enumerate(row):
            s, col = cell_text(c, v)
            frame.text(x0 + CW * (c + 1) + CW / 2, yc, s, ha='center', va='center',
                       fontsize=7.5, color=col)
        yb = y0 + (5 + r) * RH
        hline(x0 + CW, xr, yb, GRID, 0.6)
        hline(x0, x0 + CW, yb, 'black', 1.1)
    for c in range(2, 13):
        vline(x0 + c * CW, y0 + 4 * RH, y0 + 34 * RH, GRID, 0.6)
    for k in (2, 3, 4):
        hline(x0, xr, y0 + k * RH, 'black', 1.1)
    vline(x0 + 0.5, y0 + 2 * RH, y0 + 34 * RH, 'black', 1.1)
    vline(x0 + CW, y0, y0 + 34 * RH, 'black', 1.1)


def ticks_for(lim):
    lo, hi, step = lim
    return np.linspace(lo, hi, int(round((hi - lo) / step)) + 1)


def draw_chart(x0, geo, left, bars, bar_color, bar_name, lim_l, price, lim_r, bar_width):
    box_t, box_b, top, bot, leg_y = geo
    right = 622 if x0 == 0 else 621
    frame.add_patch(Rectangle((x0 + 1, box_t), 661, box_b - box_t, fc='white',
                              ec=GRID, lw=1.0, zorder=1))
    ax = fig.add_axes([(x0 + left) / W, 1 - bot / H, (right - left) / W, (bot - top) / H])
    ax.patch.set_alpha(0)
    n = len(bars)
    ax.bar(obs_dates[:n], bars, width=bar_width, color=bar_color, linewidth=0, zorder=2)
    ax.set_ylim(lim_l[0], lim_l[1])
    ax.set_yticks(ticks_for(lim_l))
    ax.yaxis.set_major_formatter(FuncFormatter(lambda v, p: f'{int(round(v))}'))
    ax.yaxis.grid(True, color=GRID, lw=0.8)
    ax.xaxis.grid(False)
    ax.set_axisbelow(True)
    for s in ('top', 'left', 'right'):
        ax.spines[s].set_visible(False)
    ax.spines['bottom'].set_color('#BFBFBF')
    ax.spines['bottom'].set_linewidth(0.8)

    ax2 = ax.twinx()
    m = len(price)
    sns.lineplot(x=obs_dates[:m], y=price, ax=ax2, color=BLUE, lw=1.7)
    ax2.set_ylim(lim_r[0], lim_r[1])
    ax2.set_yticks(ticks_for(lim_r))
    ax2.yaxis.set_major_formatter(FuncFormatter(lambda v, p: f'{v:.2f}'))
    ax2.set_ylabel('')
    for s in ax2.spines.values():
        s.set_visible(False)
    ax2.grid(False)

    ax.set_xlim(pd.Timestamp('2021-06-23'), pd.Timestamp('2022-06-23'))
    ax.set_xticks(month_ticks)
    ax.set_xticklabels(tick_labels)
    ax.set_xlabel('')
    ax.tick_params(axis='x', bottom=True, length=3, width=0.8, color='#BFBFBF',
                   labelsize=7, labelcolor=TICK, pad=2)
    ax.tick_params(axis='y', left=False, length=0, labelsize=7, labelcolor=TICK, pad=4)
    ax2.tick_params(axis='y', right=False, length=0, labelsize=7, labelcolor=TICK, pad=4)

    handles = [Patch(facecolor=bar_color, edgecolor='none'), Line2D([0], [0], color=BLUE, lw=2)]
    fig.legend(handles, [bar_name, 'Price'], loc='center',
               bbox_to_anchor=((x0 + 331) / W, 1 - leg_y / H), ncol=2, frameon=False,
               fontsize=7.5, labelcolor=TICK, handlelength=2.6, handleheight=0.7,
               columnspacing=1.0, handletextpad=0.4)


for p in panels:
    draw_table(p['x0'], p['y0'], p['title'], p['totals'], p['rows'])
    geo_oi, geo_vol = chart_rows[p['row']]
    l_oi, l_vol = plot_left[p['row']][p['side']]
    oi_values = [v * 1000 for v in p['oi']]
    draw_chart(p['x0'], geo_oi, l_oi, oi_values, GOLD, 'OI', p['oi_lim'], p['price'], p['p_lim'], 1.7)
    draw_chart(p['x0'], geo_vol, l_vol, p['vol'], MAROON, 'Volume', p['vol_lim'], p['price'], p['p_lim'], 1.1)

fig.savefig('out.png', dpi=100, facecolor='white')
